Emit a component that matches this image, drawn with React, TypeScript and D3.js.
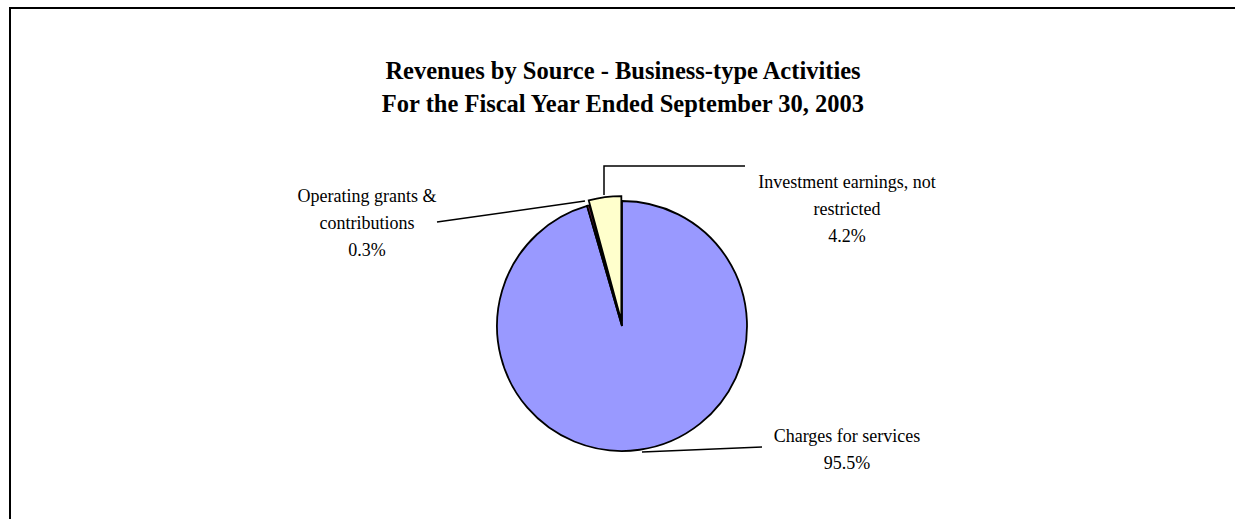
import React from "react";
import * as d3 from "d3";

const categories = ["Charges for services", "Operating grants & contributions", "Investment earnings, not restricted"];
const values = [95.5, 0.3, 4.2];
const pctLabels = ["95.5%", "0.3%", "4.2%"];
const colors = ["#9999FF", "#993366", "#FFFFCC"];
const titleLines = ["Revenues by Source - Business-type Activities", "For the Fiscal Year Ended September 30, 2003"];

export default function App() {
  const W = 1235, H = 519;
  const cx = 622, cy = 326, r = 125;
  const pie = d3.pie<number>().sort(null).value((d) => d).startAngle(0).endAngle(2 * Math.PI);
  const arcs = pie(values);
  const arc = d3.arc<d3.PieArcDatum<number>>().innerRadius(0).outerRadius(r);
  const explode = [0, 0, 5];
  const font = "'Liberation Serif', 'Times New Roman', serif";

  const labelLines: string[][] = [
    ["Charges for services", pctLabels[0]],
    ["Operating grants &", "contributions", pctLabels[1]],
    ["Investment earnings, not", "restricted", pctLabels[2]],
  ];
  const labelPos = [
    { x: 847, y: 442 },
    { x: 367, y: 202 },
    { x: 847, y: 188 },
  ];
  const leaders = [
    [[642, 452], [762, 447]],
    [[585, 201], [437, 222]],
    [[604, 195], [604, 166], [745, 166]],
  ];

  return (
    <svg width={W} height={H} style={{ position: "absolute", left: 0, top: 0 }}>
      <rect x={0} y={0} width={W} height={H} fill="#fff" />
      <rect x={10} y={8} width={W + 20} height={H + 20} fill="none" stroke="#000" strokeWidth={2} />
      {titleLines.map((t, i) => (
        <text key={i} x={623} y={79 + i * 33} textAnchor="middle" fontFamily={font} fontWeight="bold" fontSize={24.5}>
          {t}
        </text>
      ))}
      <g transform={`translate(${cx},${cy})`}>
        {arcs.map((a, i) => {
          const mid = (a.startAngle + a.endAngle) / 2;
          const dx = Math.sin(mid) * explode[i];
          const dy = -Math.cos(mid) * explode[i];
          return (
            <path key={i} d={arc(a) || ""} transform={`translate(${dx},${dy})`} fill={colors[i]} stroke="#000" strokeWidth={1.8} strokeLinejoin="miter" />
          );
        })}
      </g>
      {leaders.map((pts, i) => (
        <path key={i} d={d3.line()(pts as [number, number][]) || ""} fill="none" stroke="#000" strokeWidth={1.5} />
      ))}
      {labelLines.map((lines, i) => (
        <text key={i} textAnchor="middle" fontFamily={font} fontSize={18}>
          {lines.map((l, j) => (
            <tspan key={j} x={labelPos[i].x} y={labelPos[i].y + j * 27}>
              {l}
            </tspan>
          ))}
        </text>
      ))}
    </svg>
  );
}
